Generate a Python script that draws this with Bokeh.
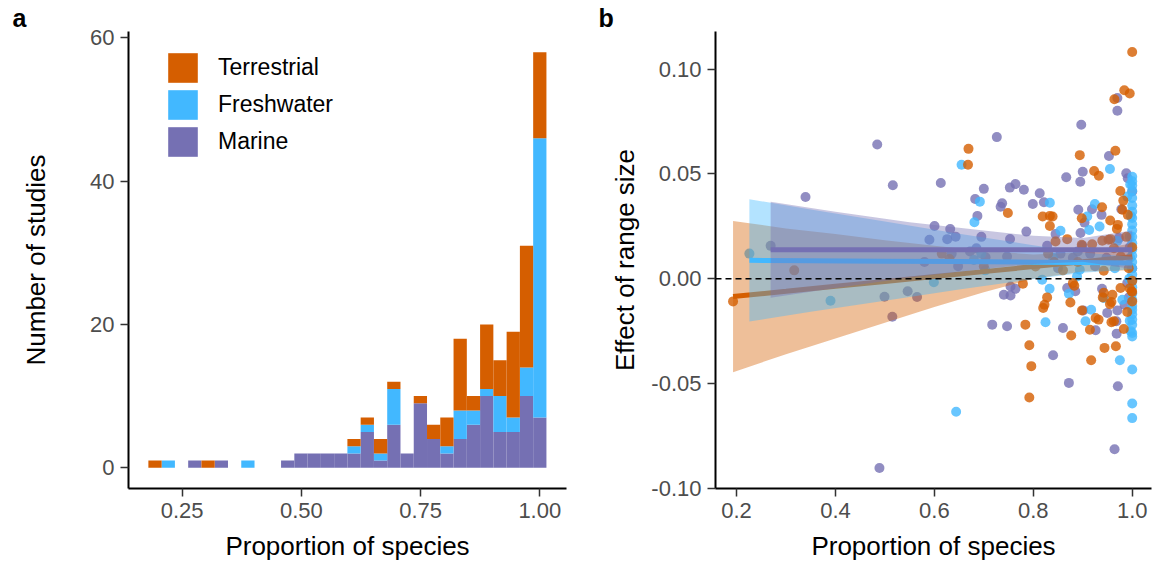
import numpy as np
from bokeh.plotting import figure
from bokeh.layouts import row
from bokeh.models import (Range1d, FixedTicker, PrintfTickFormatter, Legend,
                          LegendItem, Span)
from bokeh.embed import file_html
from bokeh.resources import INLINE

FONT = "Liberation Sans"
ORANGE = "#D55E00"
BLUE = "#42B8FF"
PURPLE = "#7570B3"

# ---------------- histogram (panel a) ----------------
bin_first = 0.193   # centre of the first bin (smallest proportion)
bin_last = 1.0      # centre of the last bin
n_bins = 30
terrestrial_counts = [1, 0, 0, 0, 1, 0, 0, 0, 0, 0, 0, 0, 0, 0, 0,
                      1, 1, 2, 1, 0, 1, 2, 4, 10, 2, 9, 5, 12, 17, 12]
freshwater_counts = [0, 1, 0, 0, 0, 0, 0, 1, 0, 0, 0, 0, 0, 0, 0,
                     1, 1, 1, 5, 0, 0, 0, 1, 4, 2, 1, 5, 2, 4, 39]
marine_counts = [0, 0, 0, 1, 0, 1, 0, 0, 0, 0, 1, 2, 2, 2, 2,
                 2, 5, 1, 6, 2, 9, 4, 2, 4, 6, 10, 5, 5, 10, 7]
hist_xticks = [0.25, 0.50, 0.75, 1.00]
hist_yticks = [0, 20, 40, 60]

# ---------------- scatter (panel b) ----------------
terr_x = [0.193, 0.3167, 0.615, 0.6306, 0.669, 0.668, 0.700, 0.7486, 0.779, 0.784,
          0.792, 0.796, 0.792, 0.8045, 0.8227, 0.820, 0.828, 0.819, 0.8335, 0.839,
          0.8335, 0.845, 0.830, 0.842, 0.8686, 0.860, 0.8767, 0.875, 0.880, 0.883,
          0.894, 0.898, 0.8985, 0.898, 0.890, 0.923, 0.919, 0.9145, 0.926, 0.917,
          0.9325, 0.939, 0.9555, 0.9395, 0.956, 0.932, 0.944, 0.9405, 0.9425, 0.955,
          0.952, 0.9425, 0.964, 0.984, 0.966, 0.976, 0.982, 0.980, 0.971, 0.969,
          0.963, 0.977, 0.9764, 0.958, 0.960, 0.963, 0.967, 0.958, 0.983, 1.000,
          0.995, 0.991, 0.995, 0.999, 0.990, 1.000, 1.000, 0.988, 1.000, 0.993, 1.000]
terr_y = [-0.0108, 0.0040, 0.0120, 0.0094, 0.0620, 0.0544, 0.0060, 0.0314, -0.0024, -0.0219,
          -0.0317, -0.0417, -0.0567, 0.0059, -0.0124, -0.0140, -0.0089, 0.0297, 0.0300, 0.0297,
          0.0252, 0.0178, 0.0120, 0.0080, 0.0189, 0.0040, -0.0271, -0.0113, -0.0020, -0.0033,
          0.0590, 0.0289, -0.0151, 0.0162, 0.0080, 0.0514, 0.0165, -0.0243, -0.0187, -0.0389,
          0.0492, 0.0341, 0.0278, 0.0181, 0.0189, -0.0195, -0.0330, -0.0089, -0.0067, -0.0121,
          0.0186, 0.0038, 0.0857, 0.0900, 0.0611, 0.0419, 0.0373, 0.0329, 0.0257, 0.0238,
          0.0146, 0.0106, -0.0044, -0.0111, -0.0076, -0.0203, -0.0322, -0.0208, -0.0240, 0.1082,
          0.0884, 0.0305, -0.0046, -0.0060, -0.0159, -0.0108, -0.0063, 0.0200, 0.0150, 0.0050, -0.0010]

fresh_x = [0.226, 0.390, 0.599, 0.644, 0.655, 0.692, 0.681, 0.680, 0.695, 0.703,
           0.818, 0.8335, 0.833, 0.8247, 0.840, 0.855, 0.872, 0.8885, 0.894, 0.9245,
           0.909, 0.913, 0.9056, 0.917, 0.934, 0.955, 0.9425, 0.975, 0.965, 0.980,
           0.970, 0.990,
           1.0, 1.0, 1.0, 1.0, 1.0, 1.0, 1.0, 1.0, 1.0, 1.0, 1.0, 1.0, 1.0, 1.0, 1.0, 1.0,
           1.0, 1.0, 1.0, 1.0, 1.0, 1.0, 1.0, 1.0, 1.0, 1.0, 1.0, 1.0, 1.0, 1.0, 1.0,
           0.997, 0.996, 0.995, 0.996, 0.994, 0.997, 0.995]
fresh_y = [0.0120, -0.0105, -0.0017, -0.0635, 0.0544, 0.0368, 0.0270, 0.0090, 0.0120, 0.0040,
           -0.0005, 0.0363, -0.0048, -0.0208, 0.0100, 0.0229, -0.0071, 0.0011, 0.0043, 0.0357,
           0.0297, 0.0233, -0.0203, -0.0148, 0.0249, 0.0524, -0.0092, -0.0389, 0.0050, -0.0100,
           0.0180, 0.0392,
           0.0487, 0.0465, 0.0445, 0.0420, 0.0385, 0.0350, 0.0320, 0.0290, 0.0260, 0.0230,
           0.0200, 0.0170, 0.0140, 0.0110, 0.0080, 0.0050, 0.0020, -0.0010, -0.0040, -0.0070,
           -0.0100, -0.0130, -0.0148, -0.0170, -0.0195, -0.0220, -0.0259, -0.0275, -0.0433,
           -0.0595, -0.0665,
           0.0300, 0.0100, -0.0200, 0.0450, 0.0000, -0.0250, 0.0200]

mar_x = [0.269, 0.3395, 0.4845, 0.489, 0.4992, 0.516, 0.515, 0.546, 0.565, 0.590,
         0.580, 0.6003, 0.613, 0.626, 0.632, 0.643, 0.635, 0.648, 0.672, 0.6825,
         0.687, 0.700, 0.685, 0.7035, 0.695, 0.7263, 0.717, 0.737, 0.734, 0.7526,
         0.753, 0.747, 0.754, 0.7405, 0.754, 0.747, 0.764, 0.781, 0.786, 0.764,
         0.799, 0.813, 0.8215, 0.845, 0.828, 0.840, 0.8666, 0.8686, 0.860, 0.872,
         0.855, 0.850, 0.897, 0.900, 0.895, 0.891, 0.8955, 0.899, 0.901, 0.880,
         0.890, 0.885, 0.9036, 0.9187, 0.926, 0.915, 0.925, 0.953, 0.938, 0.939,
         0.9495, 0.948, 0.970, 0.970, 0.978, 0.973, 0.9845, 0.970, 0.968, 0.9685,
         0.971, 0.9643, 0.988, 0.991, 1.000, 0.993, 0.995, 1.000, 0.990]
mar_y = [0.0157, 0.0390, 0.0641, -0.0903, -0.0086, 0.0446, -0.0181, -0.0060, -0.0087, 0.0186,
         0.0080, 0.0252, 0.0457, 0.0189, 0.0237, 0.0201, 0.0120, 0.0060, 0.0130, 0.0381,
         0.0300, 0.0429, 0.0146, 0.0103, 0.0200, 0.0676, -0.0219, 0.0360, 0.0344, 0.0435,
         0.0190, 0.0106, -0.0037, -0.0076, -0.0080, -0.0227, 0.0452, 0.0425, 0.0225, -0.0048,
         0.0357, 0.0408, 0.0365, 0.0214, 0.0157, -0.0365, 0.0484, -0.0044, -0.0235, -0.0497,
         0.0120, 0.0050, 0.0735, 0.0511, 0.0463, 0.0329, 0.0218, 0.0157, -0.0151, 0.0100,
         0.0130, -0.0060, 0.0268, 0.0332, -0.0246, 0.0120, 0.0060, 0.0586, 0.0305, -0.0048,
         -0.0163, 0.0100, 0.0863, 0.0802, 0.0332, 0.0194, -0.0124, -0.0151, -0.0203, -0.0262,
         -0.0513, -0.0814, 0.0503, 0.0480, 0.0416, -0.0090, 0.0150, 0.0050, -0.0020]

# linear fits with 95% confidence bands, per realm
terr_fit_x = [0.193, 0.30, 0.40, 0.50, 0.60, 0.70, 0.80, 0.90, 1.00]
terr_fit = [-0.0085, -0.0060, -0.0036, -0.0013, 0.0011, 0.0034, 0.0058, 0.0081, 0.0105]
terr_lo = [-0.0446, -0.0360, -0.0285, -0.0210, -0.0135, -0.0065, 0.0000, 0.0035, 0.0040]
terr_hi = [0.0276, 0.0240, 0.0213, 0.0184, 0.0157, 0.0133, 0.0116, 0.0127, 0.0170]

fresh_fit_x = [0.226, 0.35, 0.50, 0.65, 0.80, 0.90, 1.00]
fresh_fit = [0.0088, 0.0086, 0.0084, 0.0082, 0.0079, 0.0077, 0.0075]
fresh_lo = [-0.0204, -0.0158, -0.0105, -0.0051, -0.0002, 0.0029, 0.0045]
fresh_hi = [0.0380, 0.0330, 0.0273, 0.0215, 0.0160, 0.0125, 0.0105]

mar_fit_x = [0.269, 0.40, 0.55, 0.70, 0.80, 0.90, 1.00]
mar_fit = [0.0138, 0.0138, 0.0138, 0.0138, 0.0138, 0.0138, 0.0138]
mar_lo = [-0.0091, -0.0044, 0.0006, 0.0046, 0.0071, 0.0081, 0.0046]
mar_hi = [0.0367, 0.0320, 0.0270, 0.0230, 0.0205, 0.0195, 0.0230]

scatter_xticks = [0.2, 0.4, 0.6, 0.8, 1.0]
scatter_yticks = [-0.10, -0.05, 0.00, 0.05, 0.10]


def style_axes(p, panel_letter, letter_offset, tick_out=8):
    for ax in (p.xaxis[0], p.yaxis[0]):
        ax.axis_line_width = 2
        ax.axis_line_color = "black"
        ax.major_tick_line_color = "#333333"
        ax.major_tick_line_width = 1.5
        ax.major_tick_out = tick_out
        ax.major_tick_in = 0
        ax.minor_tick_line_color = None
        ax.major_label_text_font = FONT
        ax.major_label_text_font_size = "22px"
        ax.major_label_text_color = "#4D4D4D"
        ax.major_label_standoff = 6
        ax.axis_label_text_font = FONT
        ax.axis_label_text_font_size = "26px"
        ax.axis_label_text_font_style = "normal"
        ax.axis_label_text_color = "black"
    p.xgrid.visible = False
    p.ygrid.visible = False
    p.outline_line_color = None
    p.background_fill_color = "white"
    p.border_fill_color = "white"
    # panel letter in the top-left corner
    p.title.text = panel_letter
    p.title.text_font = FONT
    p.title.text_font_style = "bold"
    p.title.text_font_size = "25px"
    p.title.text_color = "black"
    p.title.align = "left"
    p.title.offset = letter_offset
    p.title.standoff = 0


# ---------------- panel a ----------------
width_bin = (bin_last - bin_first) / (n_bins - 1)
centres = bin_first + width_bin * np.arange(n_bins)
hist_data = dict(x=centres, Marine=marine_counts, Freshwater=freshwater_counts,
                 Terrestrial=terrestrial_counts)

pa = figure(width=590, height=563, min_border_left=128, min_border_right=24,
            min_border_top=31, min_border_bottom=74,
            x_range=Range1d(0.1374, 1.056), y_range=Range1d(-2.9, 60.9),
            output_backend="svg", toolbar_location=None)
bars = pa.vbar_stack(["Marine", "Freshwater", "Terrestrial"], x="x", width=width_bin,
                     color=[PURPLE, BLUE, ORANGE], line_color=None, source=hist_data)
style_axes(pa, "a", -116)
pa.xaxis.ticker = FixedTicker(ticks=hist_xticks)
pa.xaxis.formatter = PrintfTickFormatter(format="%.2f")
pa.yaxis.ticker = FixedTicker(ticks=hist_yticks)
pa.xaxis.axis_label = "Proportion of species"
pa.yaxis.axis_label = "Number of studies"
pa.xaxis.axis_label_standoff = 10
pa.yaxis.axis_label_standoff = 36

legend = Legend(items=[LegendItem(label="Terrestrial", renderers=[bars[2]]),
                       LegendItem(label="Freshwater", renderers=[bars[1]]),
                       LegendItem(label="Marine", renderers=[bars[0]])],
                location=(36, 328), glyph_width=37, glyph_height=37, spacing=-3,
                padding=0, margin=0, label_standoff=17, border_line_color=None,
                background_fill_alpha=0, label_text_font=FONT,
                label_text_font_size="23px", label_text_color="black")
pa.add_layout(legend)

# ---------------- panel b ----------------
pb = figure(width=566, height=563, min_border_left=125, min_border_right=5,
            min_border_top=31, min_border_bottom=74,
            x_range=Range1d(0.1575, 1.039), y_range=Range1d(-0.1001, 0.118),
            output_backend="svg", toolbar_location=None)
style_axes(pb, "b", -117)
pb.xaxis.ticker = FixedTicker(ticks=scatter_xticks)
pb.xaxis.formatter = PrintfTickFormatter(format="%.1f")
pb.yaxis.ticker = FixedTicker(ticks=scatter_yticks)
pb.yaxis.formatter = PrintfTickFormatter(format="%.2f")
pb.xaxis.axis_label = "Proportion of species"
pb.yaxis.axis_label = "Effect of range size"
pb.xaxis.axis_label_standoff = 10
pb.yaxis.axis_label_standoff = 8

pb.add_layout(Span(location=0, dimension="width", line_color="black",
                   line_width=1.5, line_dash="6 4"))

for xs, ys, col in ((mar_x, mar_y, PURPLE), (fresh_x, fresh_y, BLUE),
                    (terr_x, terr_y, ORANGE)):
    pb.scatter(xs, ys, size=10, fill_color=col, fill_alpha=0.8, line_color=None)

for fx, fm, lo, hi, col in ((terr_fit_x, terr_fit, terr_lo, terr_hi, ORANGE),
                            (fresh_fit_x, fresh_fit, fresh_lo, fresh_hi, BLUE),
                            (mar_fit_x, mar_fit, mar_lo, mar_hi, PURPLE)):
    pb.varea(x=fx, y1=lo, y2=hi, fill_color=col, fill_alpha=0.4)
    pb.line(fx, fm, line_color=col, line_width=5)

layout = row(pa, pb, spacing=0)
open("out.html", "w").write(file_html(layout, INLINE))
